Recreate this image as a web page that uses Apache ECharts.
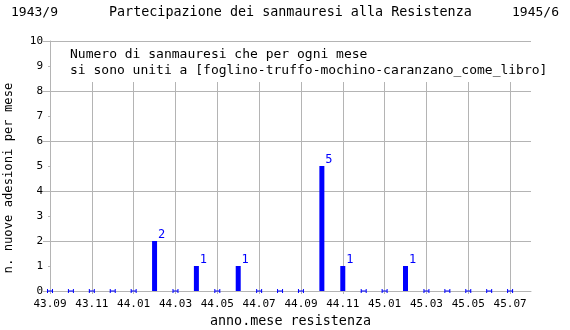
<!DOCTYPE html>
<html>
<head>
<meta charset="utf-8">
<script src="https://cdn.jsdelivr.net/npm/echarts@6/dist/echarts.min.js"></script>
<style>html,body{margin:0;padding:0;background:#fff}#c{width:570px;height:330px}</style>
</head>
<body>
<div id="c"></div>
<script>
var months = ['43.09','43.10','43.11','43.12','44.01','44.02','44.03','44.04','44.05','44.06','44.07','44.08','44.09','44.10','44.11','44.12','45.01','45.02','45.03','45.04','45.05','45.06','45.07','45.08'];
var adesioni = [0,0,0,0,0,2,0,1,0,1,0,0,0,5,1,0,0,1,0,0,0,0,0];
var titleLeft = '1943/9';
var titleMain = 'Partecipazione dei sanmauresi alla Resistenza';
var titleRight = '1945/6';
var note = 'Numero di sanmauresi che per ogni mese\nsi sono uniti a [foglino-truffo-mochino-caranzano_come_libro]';
var xName = 'anno.mese resistenza';
var yName = 'n. nuove adesioni per mese';

var FONT = 'DejaVu Sans Mono';
var GRID = '#b4b4b4';
var BLUE = '#0000ff';

var bars = adesioni.map(function(v){ return v > 0 ? v : '-'; });
var zeros = adesioni.map(function(v){ return v === 0 ? 0 : '-'; });

var chart = echarts.init(document.getElementById('c'), null, {renderer:'canvas'});
chart.setOption({
  animation: false,
  backgroundColor: '#fff',
  textStyle: { fontFamily: FONT },
  title: [
    { text: titleLeft, left: 11, top: 6, padding: 0, textStyle: { fontFamily: FONT, fontSize: 13, fontWeight: 'normal', color: '#000' } },
    { text: titleMain, left: 109, top: 6, padding: 0, textStyle: { fontFamily: FONT, fontSize: 13.4, fontWeight: 'normal', color: '#000' } },
    { text: titleRight, right: 11, top: 6, padding: 0, textStyle: { fontFamily: FONT, fontSize: 13, fontWeight: 'normal', color: '#000' } }
  ],
  grid: { left: 50, right: 39, top: 41, bottom: 39, containLabel: false, outerBoundsMode: 'none' },
  xAxis: {
    type: 'category',
    data: months,
    boundaryGap: false,
    name: xName,
    nameLocation: 'middle',
    nameGap: 23,
    nameTextStyle: { fontFamily: FONT, fontSize: 13.4, color: '#000' },
    axisLine: { lineStyle: { color: GRID, width: 1 } },
    axisTick: { show: true, interval: 1, length: 3, lineStyle: { color: GRID } },
    axisLabel: { interval: 1, margin: 8, fontFamily: FONT, fontSize: 11, color: '#000' },
    splitLine: { show: true, interval: 1, lineStyle: { color: GRID, width: 1 } }
  },
  yAxis: [
    {
      type: 'value', min: 0, max: 10, interval: 1, position: 'left', offset: 0,
      name: yName, nameLocation: 'middle', nameGap: 35, nameRotate: 90,
      nameTextStyle: { fontFamily: FONT, fontSize: 12.2, color: '#000', padding: [0, 24, 0, 0] },
      axisLine: { show: true, lineStyle: { color: GRID, width: 1 } },
      axisTick: { show: true, length: 2, lineStyle: { color: GRID } },
      axisLabel: { margin: 7, fontFamily: FONT, fontSize: 11, color: '#000' },
      splitLine: { show: false }
    },
    {
      type: 'value', min: 0, max: 10, interval: 2, position: 'left', offset: 0,
      axisLine: { show: false },
      axisTick: { show: true, length: 7, lineStyle: { color: GRID } },
      axisLabel: { show: false },
      splitLine: { show: true, lineStyle: { color: GRID, width: 1 } }
    }
  ],
  graphic: [
    { type: 'rect', z: 100, shape: { x: 51, y: 42, width: 510, height: 40 }, style: { fill: '#fff' } },
    { type: 'text', z: 101, x: 70, y: 47, style: { text: note, font: '13px "DejaVu Sans Mono"', lineHeight: 16, fill: '#000', textVerticalAlign: 'top' } }
  ],
  series: [
    {
      type: 'bar', data: bars, barWidth: 5, itemStyle: { color: BLUE },
      label: { show: true, position: 'top', distance: 0, offset: [7, 0], color: BLUE, fontFamily: FONT, fontSize: 12 }
    },
    {
      type: 'scatter', data: zeros, z: 5,
      symbol: 'path://M0,0H1V4H0Z M1,1.5H5V2.5H1Z M5,0H6V4H5Z',
      symbolSize: [6, 4], itemStyle: { color: BLUE, opacity: 1 }
    }
  ]
});
</script>
</body>
</html>
